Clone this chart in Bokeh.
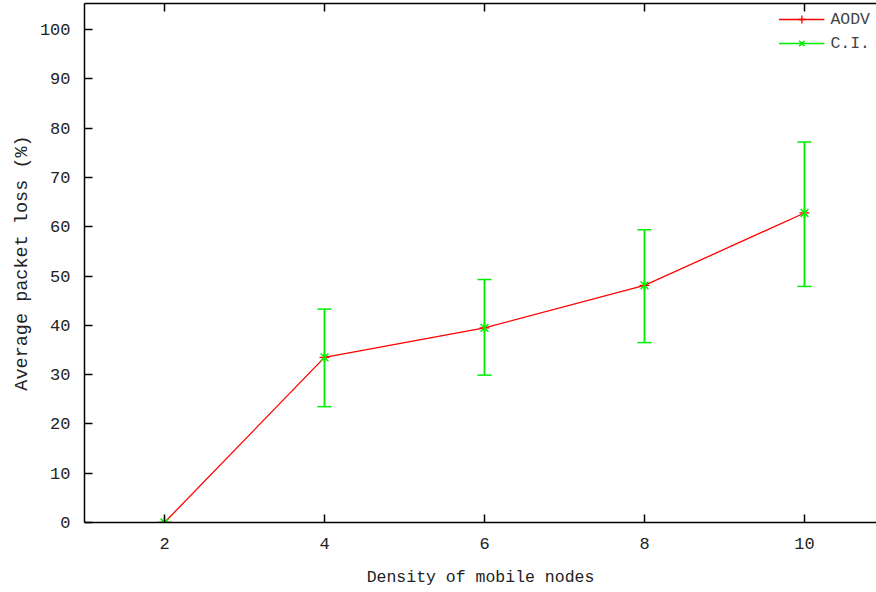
from bokeh.plotting import figure
from bokeh.models import (LinearAxis, FixedTicker, Range1d, Whisker, ColumnDataSource,
                          TeeHead, Legend, LegendItem)
from bokeh.embed import file_html
from bokeh.resources import INLINE

density = [2, 4, 6, 8, 10]
aodv_loss = [0.0, 33.5, 39.5, 48.1, 62.8]
ci_lower = [0.0, 23.5, 29.9, 36.5, 47.9]
ci_upper = [0.0, 43.3, 49.3, 59.4, 77.2]
x_ticks = [2, 4, 6, 8, 10]
y_ticks = [0, 10, 20, 30, 40, 50, 60, 70, 80, 90, 100]

FONT = "Liberation Mono"
RED = "#ff0000"
GREEN = "#00ee00"

src = ColumnDataSource(dict(x=density, y=aodv_loss, lo=ci_lower, hi=ci_upper))

p = figure(width=876, height=590, output_backend="svg", toolbar_location=None,
           x_range=Range1d(1, 10.9), y_range=Range1d(0, 105.3),
           x_axis_label="Density of mobile nodes",
           y_axis_label="Average packet loss (%)",
           min_border_left=84, min_border_right=0, min_border_top=3, min_border_bottom=68)
p.outline_line_color = None
p.xgrid.visible = False
p.ygrid.visible = False
p.background_fill_color = "white"

for ax in p.xaxis + p.yaxis:
    ax.major_tick_in = 8
    ax.major_tick_out = 0
    ax.minor_tick_line_color = None
    ax.axis_line_color = "black"
    ax.axis_line_width = 1.5
    ax.major_tick_line_width = 1.5
    ax.major_label_text_font = FONT
    ax.major_label_text_font_size = "17px"
    ax.major_label_text_color = "#222222"
    ax.axis_label_text_font = FONT
    ax.axis_label_text_font_style = "normal"
    ax.axis_label_text_color = "#222222"

p.xaxis.ticker = FixedTicker(ticks=x_ticks)
p.yaxis.ticker = FixedTicker(ticks=y_ticks)
p.xaxis.axis_label_text_font_size = "16.5px"
p.yaxis.axis_label_text_font_size = "18.5px"
p.xaxis.major_label_standoff = 15
p.xaxis.axis_label_standoff = 16
p.yaxis.major_label_standoff = 14
p.yaxis.axis_label_standoff = 4

top = LinearAxis(ticker=FixedTicker(ticks=x_ticks), major_tick_in=8, major_tick_out=0,
                 major_label_text_font_size="0px", major_label_text_color=None,
                 major_label_standoff=0,
                 minor_tick_line_color=None, axis_line_width=1.5, major_tick_line_width=1.5)
p.add_layout(top, "above")

# AODV line
line_r = p.line("x", "y", source=src, line_color=RED, line_width=1.3)
plus_r = p.scatter("x", "y", source=src, marker="cross", size=10, line_color=RED, line_width=1.3)

# C.I. error bars
seg_r = p.segment(x0="x", y0="lo", x1="x", y1="hi", source=src, line_color=GREEN, line_width=1.5)
wh = Whisker(source=src, base="x", lower="lo", upper="hi", line_color=GREEN, line_width=1.5,
             upper_head=TeeHead(size=14, line_color=GREEN, line_width=1.5),
             lower_head=TeeHead(size=14, line_color=GREEN, line_width=1.5))
p.add_layout(wh)
x_r = p.scatter("x", "y", source=src, marker="x", size=11, line_color=GREEN, line_width=1.5)

legend = Legend(items=[LegendItem(label="AODV", renderers=[line_r, plus_r]),
                       LegendItem(label="C.I.", renderers=[seg_r, x_r])],
                location="top_right", border_line_color=None, background_fill_alpha=0,
                label_text_font=FONT, label_text_font_size="16.5px", glyph_width=46,
                spacing=4, padding=4, margin=6, label_standoff=6)
p.add_layout(legend)

open("out.html", "w").write(file_html(p, INLINE))
